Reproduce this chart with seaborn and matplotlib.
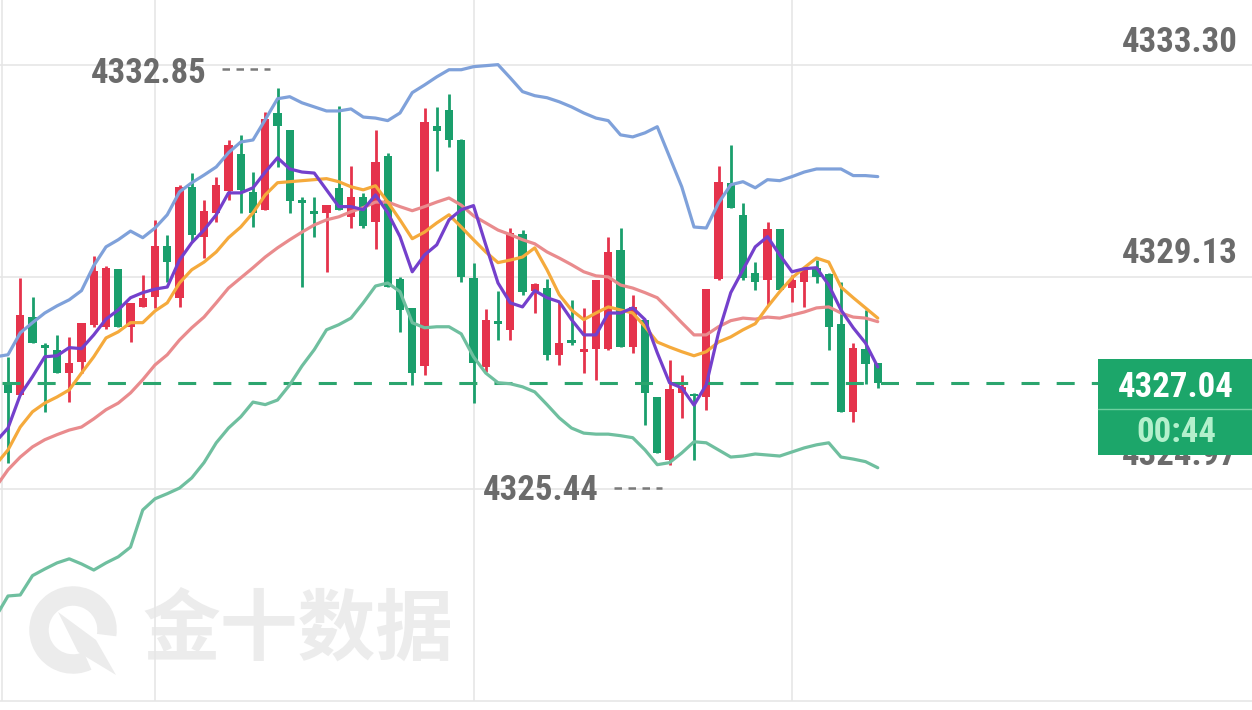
import numpy as np
import pandas as pd
import matplotlib
matplotlib.use('Agg')
import matplotlib.pyplot as plt
import seaborn as sns
from matplotlib import font_manager
from matplotlib.patches import Rectangle, Arc, Polygon

# K-line bars, oldest first (red = up, green = down)
opens = [4327.07, 4326.81, 4328.34, 4327.79, 4327.70, 4327.24, 4327.46, 4328.19, 4328.15, 4329.29,
         4328.15, 4328.54, 4328.74, 4329.74, 4328.72, 4330.90, 4329.92, 4330.39, 4330.82, 4331.55,
         4330.80, 4330.45, 4332.35, 4332.02, 4330.64, 4330.43, 4330.39, 4330.88, 4330.31, 4330.70,
         4330.21, 4331.51, 4329.09, 4328.52, 4327.38, 4332.10, 4332.41, 4331.82, 4329.11, 4327.36,
         4328.25, 4328.09, 4329.97, 4328.86, 4328.91, 4327.60, 4327.89, 4327.66, 4327.72, 4327.72,
         4329.66, 4327.75, 4328.29, 4326.77, 4325.53, 4326.85, 4326.83, 4326.77, 4329.09, 4330.98,
         4330.35, 4329.21, 4329.07, 4330.07, 4328.91, 4329.03, 4329.31, 4329.19, 4328.21, 4326.48,
         4327.72, 4327.44]
highs = [4327.56, 4329.11, 4328.74, 4327.83, 4327.99, 4327.95, 4328.23, 4329.54, 4329.35, 4329.29,
         4328.62, 4329.17, 4330.25, 4329.96, 4330.94, 4331.17, 4330.64, 4331.10, 4331.82, 4331.92,
         4331.19, 4332.37, 4332.85, 4332.02, 4330.70, 4330.70, 4330.54, 4332.49, 4331.31, 4330.78,
         4332.02, 4331.57, 4329.13, 4328.52, 4332.45, 4332.47, 4332.73, 4331.84, 4329.41, 4328.50,
         4328.86, 4330.09, 4330.05, 4329.01, 4329.09, 4328.64, 4328.68, 4328.52, 4329.07, 4329.92,
         4330.09, 4328.78, 4328.29, 4326.77, 4327.50, 4327.20, 4326.85, 4328.89, 4331.31, 4331.72,
         4330.58, 4329.42, 4330.21, 4330.07, 4329.17, 4329.27, 4329.46, 4329.21, 4329.03, 4327.83,
         4328.48, 4327.44]
lows = [4325.48, 4326.81, 4327.83, 4326.48, 4327.24, 4326.67, 4327.24, 4328.15, 4328.11, 4328.15,
        4327.85, 4328.54, 4328.52, 4329.03, 4328.54, 4329.82, 4329.50, 4330.21, 4330.64, 4330.39,
        4330.11, 4330.45, 4331.29, 4330.39, 4328.93, 4329.92, 4329.23, 4330.45, 4330.09, 4330.09,
        4329.68, 4328.93, 4328.05, 4327.01, 4327.20, 4331.21, 4331.69, 4329.03, 4326.65, 4327.26,
        4327.89, 4327.89, 4328.78, 4328.42, 4327.50, 4327.40, 4327.79, 4327.24, 4327.11, 4327.70,
        4327.75, 4327.64, 4326.22, 4325.67, 4325.44, 4326.36, 4325.53, 4326.52, 4329.07, 4330.49,
        4329.07, 4328.87, 4328.58, 4328.87, 4328.64, 4328.54, 4329.01, 4327.70, 4326.48, 4326.28,
        4327.03, 4326.95]
closes = [4326.85, 4328.38, 4327.83, 4327.74, 4327.24, 4327.44, 4328.23, 4329.25, 4329.31, 4328.15,
          4328.62, 4328.72, 4329.74, 4329.42, 4330.90, 4329.96, 4330.43, 4330.94, 4331.72, 4330.84,
          4330.39, 4332.23, 4332.10, 4330.62, 4330.58, 4330.37, 4330.54, 4330.45, 4330.70, 4330.13,
          4331.39, 4328.93, 4328.48, 4327.24, 4332.18, 4332.00, 4331.82, 4329.13, 4327.44, 4328.29,
          4328.21, 4329.99, 4328.84, 4328.99, 4327.60, 4327.83, 4327.83, 4327.72, 4329.07, 4329.62,
          4327.75, 4328.54, 4326.85, 4325.67, 4326.93, 4326.97, 4326.79, 4328.89, 4331.00, 4330.49,
          4329.11, 4329.03, 4330.07, 4328.87, 4329.07, 4329.27, 4329.13, 4328.15, 4326.48, 4327.74,
          4327.42, 4327.04]

# indicator lines; first value belongs to the bar just off the left edge
boll_upper = [4327.56, 4327.60, 4328.03, 4328.23, 4328.42, 4328.56, 4328.68, 4328.86, 4329.35, 4329.72,
              4329.86, 4330.03, 4329.90, 4330.09, 4330.35, 4330.80, 4330.98, 4331.13, 4331.29, 4331.57,
              4331.78, 4331.82, 4332.22, 4332.63, 4332.67, 4332.55, 4332.47, 4332.39, 4332.39, 4332.43,
              4332.27, 4332.25, 4332.20, 4332.35, 4332.75, 4332.90, 4333.06, 4333.20, 4333.20, 4333.26,
              4333.28, 4333.30, 4333.04, 4332.77, 4332.69, 4332.65, 4332.57, 4332.47, 4332.35, 4332.25,
              4332.20, 4331.92, 4331.88, 4331.96, 4332.08, 4331.49, 4330.90, 4330.11, 4330.09, 4330.58,
              4330.94, 4331.00, 4330.88, 4331.04, 4331.02, 4331.10, 4331.19, 4331.25, 4331.25, 4331.25,
              4331.12, 4331.12, 4331.10]
boll_lower = [4322.45, 4322.86, 4322.88, 4323.26, 4323.39, 4323.51, 4323.59, 4323.49, 4323.37, 4323.51,
              4323.63, 4323.82, 4324.55, 4324.77, 4324.87, 4324.98, 4325.18, 4325.48, 4325.87, 4326.16,
              4326.38, 4326.67, 4326.62, 4326.71, 4327.01, 4327.38, 4327.70, 4328.09, 4328.19, 4328.32,
              4328.62, 4328.95, 4329.01, 4328.84, 4328.23, 4328.13, 4328.15, 4328.15, 4328.01, 4327.56,
              4327.24, 4327.05, 4327.03, 4326.97, 4326.87, 4326.62, 4326.36, 4326.16, 4326.06, 4326.04,
              4326.04, 4326.01, 4325.97, 4325.73, 4325.44, 4325.48, 4325.67, 4325.89, 4325.87, 4325.73,
              4325.59, 4325.61, 4325.65, 4325.63, 4325.61, 4325.69, 4325.77, 4325.83, 4325.87, 4325.59,
              4325.55, 4325.50, 4325.38]
boll_mid = [4325.00, 4325.34, 4325.59, 4325.79, 4325.93, 4326.03, 4326.12, 4326.18, 4326.34, 4326.52,
            4326.65, 4326.85, 4327.11, 4327.40, 4327.60, 4327.89, 4328.13, 4328.34, 4328.62, 4328.91,
            4329.11, 4329.31, 4329.52, 4329.70, 4329.86, 4330.01, 4330.15, 4330.25, 4330.31, 4330.41,
            4330.49, 4330.60, 4330.60, 4330.51, 4330.43, 4330.51, 4330.60, 4330.68, 4330.54, 4330.33,
            4330.19, 4330.05, 4329.96, 4329.86, 4329.78, 4329.62, 4329.50, 4329.37, 4329.23, 4329.15,
            4329.13, 4328.97, 4328.91, 4328.82, 4328.72, 4328.48, 4328.23, 4327.99, 4327.99, 4328.15,
            4328.27, 4328.32, 4328.30, 4328.34, 4328.32, 4328.38, 4328.44, 4328.52, 4328.54, 4328.42,
            4328.34, 4328.32, 4328.25]
ma10 = [4325.44, 4325.73, 4326.18, 4326.48, 4326.65, 4326.77, 4326.91, 4327.24, 4327.56, 4327.93,
        4328.05, 4328.23, 4328.23, 4328.46, 4328.62, 4329.01, 4329.27, 4329.42, 4329.62, 4329.90,
        4330.11, 4330.39, 4330.74, 4330.98, 4331.00, 4331.02, 4331.04, 4331.06, 4331.00, 4330.90,
        4330.84, 4330.92, 4330.60, 4330.25, 4329.88, 4330.01, 4330.19, 4330.35, 4330.11, 4329.86,
        4329.62, 4329.41, 4329.46, 4329.52, 4329.70, 4329.27, 4328.78, 4328.48, 4328.29, 4328.42,
        4328.54, 4328.48, 4328.42, 4328.15, 4327.85, 4327.75, 4327.66, 4327.58, 4327.66, 4327.85,
        4327.95, 4328.09, 4328.21, 4328.54, 4328.84, 4329.11, 4329.31, 4329.50, 4329.42, 4328.93,
        4328.72, 4328.52, 4328.32]
ma5 = [4325.89, 4326.16, 4326.81, 4327.17, 4327.56, 4327.58, 4327.74, 4327.72, 4327.99, 4328.30,
       4328.48, 4328.72, 4328.82, 4328.89, 4328.93, 4329.46, 4329.80, 4330.05, 4330.35, 4330.78,
       4330.78, 4330.88, 4331.19, 4331.47, 4331.25, 4331.19, 4331.17, 4330.84, 4330.51, 4330.51,
       4330.45, 4330.74, 4330.39, 4329.92, 4329.23, 4329.56, 4329.76, 4330.25, 4330.45, 4330.53,
       4329.76, 4329.01, 4328.62, 4328.54, 4328.86, 4328.72, 4328.64, 4328.29, 4327.99, 4327.99,
       4328.42, 4328.42, 4328.52, 4328.29, 4327.64, 4327.05, 4326.95, 4326.61, 4327.01, 4328.03,
       4328.82, 4329.27, 4329.72, 4329.92, 4329.56, 4329.23, 4329.29, 4329.31, 4328.97, 4328.48,
       4328.13, 4327.83, 4327.36]

grid_prices = [4333.30, 4329.13, 4324.97, 4320.80]
grid_labels = ['4333.30', '4329.13', '4324.97']
time_grid = [12, 38, 64]
countdown = '00:44'
watermark = '金十数据'

RED = '#e5334c'
GREEN = '#1a9f6c'
TEXT_GRAY = '#6b6b6b'
line_colors = {'upper': '#7fa1da', 'lower': '#6fbf9f', 'mid': '#e98b8d',
               'ma10': '#f5aa3c', 'ma5': '#7440cc'}

W, H, DPI = 1252, 710, 100
bar_px = 12.25

sns.set_style('white')
names = {f.name for f in font_manager.fontManager.ttflist}
if 'Liberation Sans Narrow' in names:
    num_font, num_size = 'Liberation Sans Narrow', 27
elif 'Roboto Condensed' in names:
    num_font, num_size = 'Roboto Condensed', 25
else:
    num_font, num_size = 'DejaVu Sans', 21
plt.rcParams['font.family'] = [num_font, 'DejaVu Sans']

df = pd.DataFrame({'idx': np.arange(len(closes)), 'open': opens, 'high': highs,
                   'low': lows, 'close': closes})
df['color'] = np.where(df['close'] >= df['open'], RED, GREEN)

line_x = np.arange(-1, len(closes))
lines = pd.concat([pd.DataFrame({'idx': line_x, 'value': v, 'line': k})
                   for k, v in [('upper', boll_upper), ('lower', boll_lower), ('mid', boll_mid),
                                ('ma10', ma10), ('ma5', ma5)]], ignore_index=True)

fig = plt.figure(figsize=(W / DPI, H / DPI), dpi=DPI, facecolor='white')
ax = fig.add_axes([0, 0, 1, 1])

# watermark
ax.text(142 / W, 1 - 632 / H, watermark, transform=ax.transAxes, family=['Noto Sans CJK SC', 'DejaVu Sans'],
        fontsize=56, fontweight='bold', color='#ececec', ha='left', va='center', zorder=0.2)
ax.add_patch(Arc((73 / W, 1 - 630 / H), 68 / W, 68 / H, theta1=-15, theta2=285, transform=ax.transAxes,
                 color='#ececec', lw=14, zorder=0.2))
ax.add_patch(Polygon([(58 / W, 1 - 612 / H), (96 / W, 1 - 640 / H), (116 / W, 1 - 675 / H),
                      (78 / W, 1 - 652 / H)], closed=True, transform=ax.transAxes,
                     color='#ececec', lw=0, zorder=0.2))

# grid
for p in grid_prices:
    ax.axhline(p, color='#e6e6e6', lw=1.2, zorder=0.5)
ax.vlines(time_grid + [-0.49], grid_prices[-1], 4340, color='#e6e6e6', lw=1.2, zorder=0.5)

# candles
ax.vlines(df['idx'], df['low'], df['high'], colors=df['color'], lw=2.0, zorder=2)
body_h = np.maximum((df['close'] - df['open']).abs(), 0.05)
body_mid = (df['close'] + df['open']) / 2
ax.bar(df['idx'], body_h, bottom=body_mid - body_h / 2, width=0.66, color=df['color'],
       linewidth=0, zorder=2)

# last price line
last = closes[-1]
ax.plot([0.0016, 0.877], [last, last], transform=ax.get_yaxis_transform(), color='#2ba56e',
        lw=2.2, dashes=(5.9, 5.6), zorder=2.5)

# indicator lines
sns.lineplot(data=lines, x='idx', y='value', hue='line', palette=line_colors, linewidth=2.3,
             legend=False, sort=False, estimator=None, ax=ax, zorder=3)

# high / low markers
hi = int(np.argmax(highs))
lo = int(np.argmin(lows))
for i, price, base_off, dash_off in [(hi, highs[hi], 0.08, 0.36), (lo, lows[lo], -0.69, -0.45)]:
    ax.plot([i - 4.57, i - 0.65], [price + dash_off] * 2, color='#7a7a7a', lw=1.8,
            dashes=(3.0, 2.6), zorder=4)
    ax.text(i - 5.8, price + base_off, f'{price:.2f}', ha='right', va='baseline',
            fontsize=num_size, fontweight='bold', color=TEXT_GRAY, zorder=4)

# price axis labels
for p, lab, off in zip(grid_prices, grid_labels, [0.24, 0.28, 0.47]):
    ax.text(0.9888, p + off, lab, transform=ax.get_yaxis_transform(), ha='right', va='baseline',
            fontsize=num_size, fontweight='bold', color=TEXT_GRAY, zorder=4)

# current price box (covers the lowest axis label, as in the app)
box_top, box_bot = last + 0.47, last - 1.41
ax.add_patch(Rectangle((0.877, box_bot), 0.123, box_top - box_bot, transform=ax.get_yaxis_transform(),
                       color='#1ca66a', lw=0, zorder=5))
ax.plot([0.877, 1.0], [last - 0.50] * 2, transform=ax.get_yaxis_transform(), color='#6fd0a0',
        lw=1.0, zorder=6)
ax.text(0.9393, last - 0.275, f'{last:.2f}', transform=ax.get_yaxis_transform(), ha='center',
        va='baseline', fontsize=num_size, fontweight='bold', color='white', zorder=6)
ax.text(0.9393, last - 1.16, countdown, transform=ax.get_yaxis_transform(), ha='center',
        va='baseline', fontsize=num_size, fontweight='bold', color='#b3f0cc', zorder=6)

ax.set_xlim(-8 / bar_px, -8 / bar_px + W / bar_px)
ax.set_ylim(4320.62, 4334.57)
ax.axis('off')

plt.savefig('out.png', dpi=DPI, facecolor='white')
plt.close()
